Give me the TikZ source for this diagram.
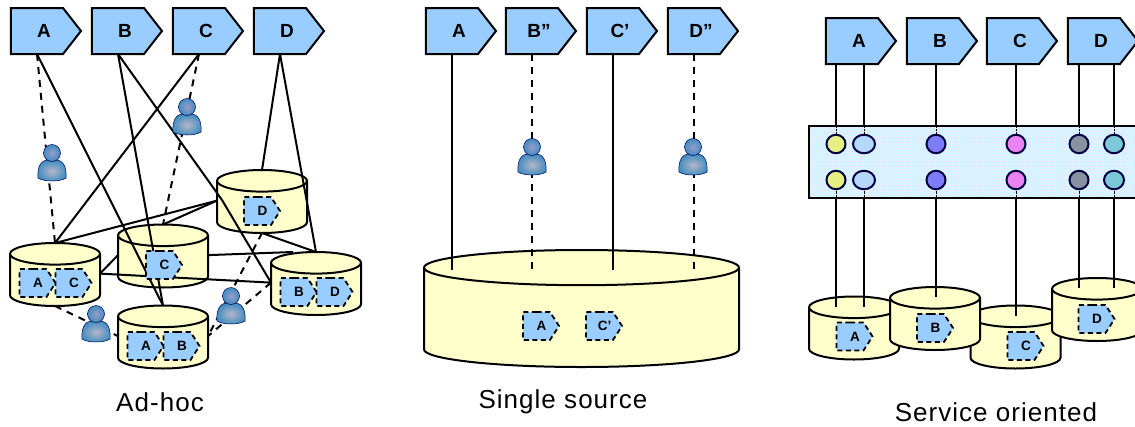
\documentclass[tikz,border=0pt]{standalone}
\usepackage{fontspec}
\setmainfont{Liberation Sans}
\usetikzlibrary{shapes.geometric,shapes.symbols,patterns,calc}
\definecolor{tagblue}{RGB}{153,204,255}
\definecolor{cream}{RGB}{255,255,204}
\definecolor{portyellow}{RGB}{230,240,130}
\definecolor{portsky}{RGB}{180,215,250}
\definecolor{portblue}{RGB}{125,125,250}
\definecolor{portpink}{RGB}{235,130,240}
\definecolor{portgray}{RGB}{135,145,160}
\definecolor{portteal}{RGB}{125,200,215}
\tikzset{
  link/.style={line width=2pt},
  weak/.style={line width=2pt,dash pattern=on 7pt off 6pt},
  tag/.style={signal,signal to=east,signal pointer angle=104,draw,line width=2pt,fill=tagblue,
    minimum width=70,minimum height=46,inner sep=0pt,outer sep=0pt,
    execute at begin node=\hspace*{14pt},
    font=\fontsize{19}{19}\selectfont\bfseries},
  doc/.style={signal,signal to=east,signal pointer angle=114,draw,line width=1.8pt,dash pattern=on 5pt off 3.5pt,
    fill=tagblue,minimum width=36,minimum height=28,inner sep=0pt,outer sep=0pt,
    execute at begin node=\hspace*{10pt},
    font=\fontsize{13.5}{13.5}\selectfont\bfseries},
  store/.style={cylinder,shape border rotate=90,shape aspect=2.7,anchor=shape center,draw,line width=2pt,fill=cream,
    minimum width=90,minimum height=63,inner sep=4pt,outer sep=0pt},
  port/.style={ellipse,draw=black!75!blue,line width=2pt,inner sep=0pt,outer sep=0pt},
  caption/.style={font=\fontsize{26}{26}\selectfont\addfontfeature{LetterSpace=4}},
  person/.pic={
    \draw[draw=blue!35!black,line width=.5pt,inner color=blue!15!gray!50!white,outer color=blue!40!cyan!50!gray]
      (-14,15) .. controls (-15,4) and (-11,-3) .. (-4,-3) -- (4,-3) .. controls (11,-3) and (15,4) .. (14,15)
      .. controls (8,19) and (-8,19) .. (-14,15) -- cycle;
    \draw[draw=blue!35!black,line width=.5pt,inner color=blue!30!gray!60!white,outer color=blue!40!cyan!50!gray]
      (0,-10) circle [radius=8.5];
  }
}
\begin{document}
\begin{tikzpicture}[x=1pt,y=-1pt]
\useasboundingbox (0,0) rectangle (1135,426);
% ad-hoc
\foreach \name/\px in {A/37,B/118,C/199,D/280}
  \node[tag] (tag\name) at (\px,31) {\name};
\node[store] (storeC) at (163,256) {};
\node[store] (storeAC) at (55,274.5) {};
\node[store] (storeAB) at (163,337) {};
\node[store] (storeD) at (262,201.5) {};
\draw[weak] (tagA.south) -- (storeAC.north);
\draw[weak] (tagC.south) -- (storeC.north);
\draw[weak] (storeAC.south) -- ([yshift=9]storeAB.west);
\draw[weak] (storeD.south) -- ([yshift=9]storeAB.east);
\draw[link] (tagA.south) -- (storeAB.north);
\draw[link] (tagB.south) -- (storeAB.north);
\draw[link] (tagC.south) -- (storeAC.north);
\draw[link] (tagD.south) -- (storeD.north);
\draw[link] ([yshift=9]storeD.west) -- (storeAC.north);
\draw[link] ([yshift=9]storeD.west) -- (storeC.north);
\draw[link] ([yshift=9]storeAC.east) -- ([yshift=9]storeC.west);
\coordinate (crossB) at (222,200);
\draw[link] (tagB.south) -- (crossB);
\node[store] (storeBD) at (316,283.5) {};
\draw[link] ([yshift=9]storeC.east) -- ([xshift=-23]storeBD.north);
\draw[link] (storeD.south) -- (storeBD.north);
\draw[link] (tagD.south) -- (storeBD.north);
\draw[link] ([yshift=9]storeAC.east) -- ([yshift=9]storeBD.west);
\draw[link] (crossB) -- ([yshift=9]storeBD.west);
\draw[weak] ([yshift=9]storeBD.west) -- ([yshift=9]storeAB.east);
\node[doc] (docAa) at (33,283) {A};
\node[doc] (docAc) at (69,283) {C};
\node[doc] (docCc) at (159.5,265) {C};
\node[doc] (docBa) at (141,346) {A};
\node[doc] (docBb) at (177,346) {B};
\node[doc] (docDb) at (294,292) {B};
\node[doc] (docDd) at (330,292) {D};
\node[doc] (docDo) at (257.5,211) {D};
\pic at (52,163) {person};
\pic at (187,117) {person};
\pic at (96,324) {person};
\pic at (231,306) {person};
\node[caption] (capAdhoc) at (160,402) {Ad-hoc};
% single source
\node[tag] (tagSa) at (452,31) {A};
\node[tag] (tagSb) at (532,31) {B''};
\node[tag] (tagSc) at (613,31) {C'};
\node[tag] (tagSd) at (694,31) {D''};
\node[store,shape aspect=4.4,minimum width=315,minimum height=117] (storeS) at (581.5,308.5) {};
\coordinate (endSa) at (452,270);
\coordinate (endSb) at (532,270);
\coordinate (endSc) at (613,270);
\coordinate (endSd) at (694,270);
\draw[link] (tagSa.south) -- (endSa);
\draw[weak] (tagSb.south) -- (endSb);
\draw[link] (tagSc.south) -- (endSc);
\draw[weak] (tagSd.south) -- (endSd);
\node[doc] (docSa) at (536.5,326) {A};
\node[doc] (docSc) at (599.5,326) {C'};
\pic at (532,157) {person};
\pic at (693,157) {person};
\node[caption] (capSingle) at (563,402) {Single source};
% service oriented
\foreach \name/\px in {A/852,B/933,C/1013,D/1094}
  \node[tag] (tagR\name) at (\px,41) {\name};
\node[draw,line width=2pt,minimum width=336,minimum height=72,inner sep=0pt,outer sep=0pt,
  preaction={fill=blue!8!white},pattern=grid,pattern color=blue!20!cyan!20!white] (band) at (977,162) {};
\node[store] (storeRa) at (854,328) {};
\node[store] (storeRc) at (1015.5,337) {};
\node[store] (storeRb) at (935,318.5) {};
\node[store] (storeRd) at (1097,309.5) {};
\coordinate (topRa) at ([yshift=-10]storeRa.north);
\coordinate (topRb) at ([yshift=-10]storeRb.north);
\coordinate (topRc) at ([yshift=-10]storeRc.north);
\coordinate (topRd) at ([yshift=-10]storeRd.north);
\foreach \name/\px/\col/\wd/\from/\to in {
    a/836/portyellow/19/tagRA/topRa, e/864/portsky/22/tagRA/topRa,
    b/936/portblue/19/tagRB/topRb, c/1016/portpink/19/tagRC/topRc,
    d/1079/portgray/19/tagRD/topRd, f/1114/portteal/20/tagRD/topRd}{
  \node[port,fill=\col,minimum width=\wd,minimum height=18.5] (\name up) at (\px,144) {};
  \node[port,fill=\col,minimum width=\wd,minimum height=18.5] (\name low) at (\px,180) {};
  \draw[link] (\name up |- \from.south) -- (\name up |- band.north);
  \draw[densely dotted,thin] (\name up |- band.north) -- (\name up.north);
  \draw[densely dotted,thin] (\name low.south) -- (\name low |- band.south);
  \draw[link] (\name low |- band.south) -- (\name low |- \to);
}
\node[doc] (docRa) at (850,336.5) {A};
\node[doc] (docRb) at (930.5,328) {B};
\node[doc] (docRc) at (1021,346) {C};
\node[doc] (docRd) at (1092,319) {D};
\node[caption] (capService) at (996,412) {Service oriented};
\end{tikzpicture}
\end{document}
